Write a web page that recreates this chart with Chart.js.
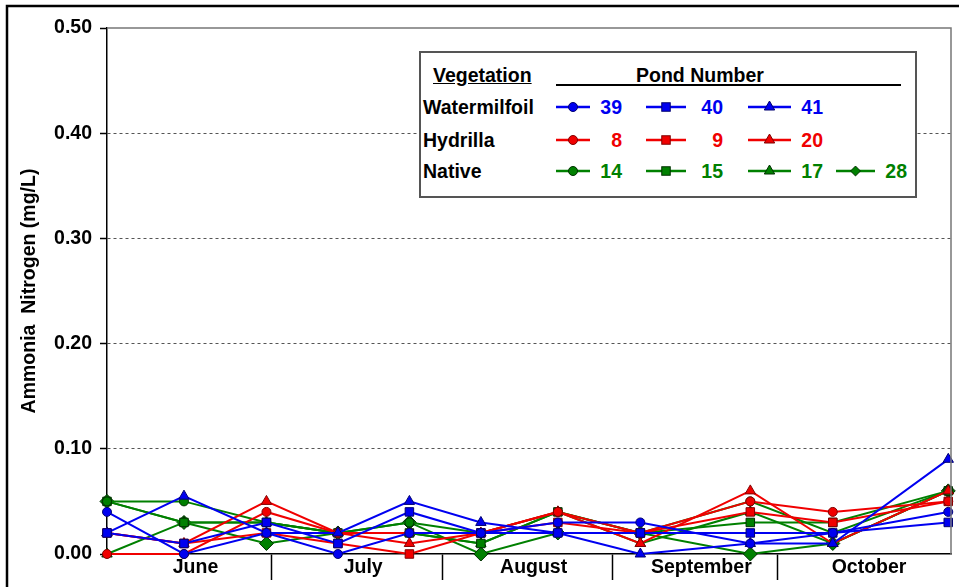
<!DOCTYPE html>
<html>
<head>
<meta charset="utf-8">
<script src="https://cdn.jsdelivr.net/npm/chart.js@4.4.0/dist/chart.umd.min.js"></script>
<style>
body{margin:0;background:#fff;font-family:Arial,"Liberation Sans",sans-serif;}
#wrap{position:relative;width:959px;height:587px;overflow:hidden;background:#fff;}
#legendBox{position:absolute;left:419px;top:51px;width:494px;height:143px;border:2px solid #555;background:#fff;font-weight:bold;font-size:19.5px;color:#000;}
#legendBox span{position:absolute;white-space:nowrap;line-height:20px;}
#legendBox .rule{position:absolute;height:2px;background:#000;}
#legendBox svg{position:absolute;}
</style>
</head>
<body>
<div id="wrap">
  <canvas id="my_chart" width="959" height="587"></canvas>
  <div id="legendBox"></div>
</div>
<script>
// sampling days counted from June 1
const sampleDay = [0, 14, 29, 42, 55, 68, 82, 97, 117, 132, 153];
const monthNames = ['June', 'July', 'August', 'September', 'October'];
const monthLength = [30, 31, 31, 30, 31];
const yTicks = [0, 0.1, 0.2, 0.3, 0.4, 0.5];

// Watermilfoil ponds
const pond39 = [0.04, 0.00, 0.02, 0.00, 0.02, 0.02, 0.03, 0.03, 0.01, 0.02, 0.04];
const pond40 = [0.02, 0.01, 0.03, 0.01, 0.04, 0.02, 0.02, 0.02, 0.02, 0.02, 0.03];
const pond41 = [0.02, 0.055, 0.02, 0.02, 0.05, 0.03, 0.02, 0.00, 0.01, 0.01, 0.09];
// Hydrilla ponds
const pond8  = [0.00, 0.00, 0.04, 0.02, 0.02, 0.02, 0.04, 0.02, 0.05, 0.04, 0.05];
const pond9  = [0.02, 0.01, 0.02, 0.01, 0.00, 0.02, 0.03, 0.02, 0.04, 0.03, 0.05];
const pond20 = [0.02, 0.01, 0.05, 0.02, 0.01, 0.02, 0.04, 0.01, 0.06, 0.01, 0.06];
// Native ponds
const pond14 = [0.05, 0.05, 0.03, 0.02, 0.03, 0.02, 0.04, 0.02, 0.05, 0.02, 0.06];
const pond15 = [0.05, 0.03, 0.03, 0.02, 0.02, 0.01, 0.04, 0.02, 0.03, 0.03, 0.06];
const pond17 = [0.00, 0.03, 0.03, 0.02, 0.02, 0.01, 0.04, 0.01, 0.04, 0.01, 0.06];
const pond28 = [0.05, 0.03, 0.01, 0.02, 0.03, 0.00, 0.02, 0.02, 0.00, 0.01, 0.06];

const BLUE = '#0000f0', RED = '#f00000', GREEN = '#008000';
const groups = [
  {name: 'Watermilfoil', color: BLUE, edge: '#000070', ponds: [['39', pond39, 'circle'], ['40', pond40, 'rect'], ['41', pond41, 'triangle']]},
  {name: 'Hydrilla', color: RED, edge: '#800000', ponds: [['8', pond8, 'circle'], ['9', pond9, 'rect'], ['20', pond20, 'triangle']]},
  {name: 'Native', color: GREEN, edge: '#003000', ponds: [['14', pond14, 'circle'], ['15', pond15, 'rect'], ['17', pond17, 'triangle'], ['28', pond28, 'rectRot']]}
];
const markerRadius = {circle: 4.5, rect: 6, triangle: 6, rectRot: 7};

// month boundaries + label positions
let boundaries = [], mids = [], start = 0;
monthLength.forEach((len, i) => {
  mids.push(start + len / 2);
  start += len;
  if (i < monthLength.length - 1) boundaries.push(start);
});
const xTickValues = boundaries.concat(mids).sort((a, b) => a - b);
const labelAt = v => { const i = mids.indexOf(v); return i >= 0 ? monthNames[i] : ''; };

const datasets = [];
groups.forEach(g => {
  g.ponds.forEach(p => {
    datasets.push({
      label: p[0],
      data: sampleDay.map((d, i) => ({x: d, y: p[1][i]})),
      borderColor: g.color,
      backgroundColor: g.color,
      borderWidth: 2,
      pointStyle: p[2],
      pointRadius: markerRadius[p[2]],
      pointBorderColor: g.edge,
      pointBorderWidth: 1,
      pointBackgroundColor: g.color,
      tension: 0,
      clip: 8
    });
  });
});

const frame = {
  id: 'frame',
  afterDraw(chart) {
    const c = chart.ctx, a = chart.chartArea;
    c.save();
    c.strokeStyle = '#777';
    c.lineWidth = 1.5;
    c.beginPath();
    c.moveTo(a.left, a.top);
    c.lineTo(a.right, a.top);
    c.lineTo(a.right, a.bottom);
    c.stroke();
    c.strokeStyle = '#000';
    c.lineWidth = 2.5;
    c.strokeRect(7, 6, 1000, 1000);
    c.restore();
  }
};

const font = {family: 'Arial, "Liberation Sans", sans-serif', size: 19.5, weight: 'bold'};

new Chart(document.getElementById('my_chart').getContext('2d'), {
  type: 'line',
  data: {datasets: datasets},
  options: {
    responsive: false,
    animation: false,
    devicePixelRatio: 1,
    layout: {padding: {left: 0, top: 28, right: 3, bottom: 0}},
    plugins: {legend: {display: false}, tooltip: {enabled: false}},
    scales: {
      x: {
        type: 'linear', min: 0, max: 153.5,
        afterBuildTicks: s => { s.ticks = xTickValues.map(v => ({value: v})); },
        afterFit: s => { s.height = 33; },
        ticks: {autoSkip: false, maxRotation: 0, padding: -24, labelOffset: 6, color: '#000', font: font, callback: v => labelAt(v)},
        grid: {
          drawOnChartArea: false, tickLength: 26, tickWidth: 1.5,
          tickColor: ctx => boundaries.includes(ctx.tick.value) ? '#000' : 'rgba(0,0,0,0)'
        },
        border: {color: '#000', width: 1.5}
      },
      y: {
        min: 0, max: 0.5,
        afterBuildTicks: s => { s.ticks = yTicks.map(v => ({value: v})); },
        afterFit: s => { s.width = 107; },
        ticks: {padding: 8, color: '#000', font: font, callback: v => v.toFixed(2)},
        grid: {
          color: ctx => (ctx.tick && ctx.tick.value > 0 && ctx.tick.value < 0.5) ? '#555' : 'rgba(0,0,0,0)',
          lineWidth: 1, tickLength: 7, tickColor: '#000', tickWidth: 1.5, tickBorderDash: []
        },
        border: {color: '#000', width: 1.5, dash: [3, 3]},
        title: {display: true, text: 'Ammonia  Nitrogen (mg/L)', color: '#000', font: font, padding: {top: 18, bottom: 0}}
      }
    }
  },
  plugins: [frame]
});

// html legend, laid out like the table in the original figure
const box = document.getElementById('legendBox');
const ox = 421, oy = 53;
const colLine = [[556, 590], [646, 686], [748, 791], [836, 875]];
const colNumRight = [622, 723, 823, 907];
const rowY = [107, 140, 171];
function addText(txt, x, y, style) {
  const s = document.createElement('span');
  s.textContent = txt;
  s.style.left = (x - ox) + 'px';
  s.style.top = (y - oy - 10) + 'px';
  Object.assign(s.style, style || {});
  box.appendChild(s);
  return s;
}
function markerSvg(style, color, edge) {
  const r = markerRadius[style];
  if (style === 'circle') return `<circle cx="12" cy="12" r="${r}" fill="${color}" stroke="${edge}" stroke-width="1"/>`;
  if (style === 'rect') { const h = r * Math.SQRT1_2; return `<rect x="${12 - h}" y="${12 - h}" width="${2 * h}" height="${2 * h}" fill="${color}" stroke="${edge}" stroke-width="1"/>`; }
  if (style === 'triangle') return `<polygon points="12,${12 - r} ${12 + r * 0.866},${12 + r / 2} ${12 - r * 0.866},${12 + r / 2}" fill="${color}" stroke="${edge}" stroke-width="1"/>`;
  const d = r * Math.SQRT1_2;
  return `<polygon points="12,${12 - d} ${12 + d},12 12,${12 + d} ${12 - d},12" fill="${color}" stroke="${edge}" stroke-width="1"/>`;
}
addText('Vegetation', 433, 75, {textDecoration: 'underline'});
addText('Pond Number', 636, 75);
const rule = document.createElement('div');
rule.className = 'rule';
rule.style.left = (556 - ox) + 'px'; rule.style.top = (84 - oy) + 'px'; rule.style.width = (901 - 556) + 'px';
box.appendChild(rule);
groups.forEach((g, gi) => {
  const y = rowY[gi];
  addText(g.name, 423, y);
  g.ponds.forEach((p, pi) => {
    const [x1, x2] = colLine[pi];
    const svg = document.createElementNS('http://www.w3.org/2000/svg', 'svg');
    svg.setAttribute('width', x2 - x1);
    svg.setAttribute('height', 24);
    svg.style.left = (x1 - ox) + 'px';
    svg.style.top = (y - oy - 12) + 'px';
    const w = x2 - x1, cx = w / 2;
    svg.innerHTML = `<line x1="0" y1="12" x2="${w}" y2="12" stroke="${g.color}" stroke-width="2.5"/>` +
      `<g transform="translate(${cx - 12},0)">${markerSvg(p[2], g.color, g.edge)}</g>`;
    box.appendChild(svg);
    const s = addText(p[0], 0, y, {color: g.color, textAlign: 'right', width: '40px'});
    s.style.left = (colNumRight[pi] - 40 - ox) + 'px';
  });
});
</script>
</body>
</html>
